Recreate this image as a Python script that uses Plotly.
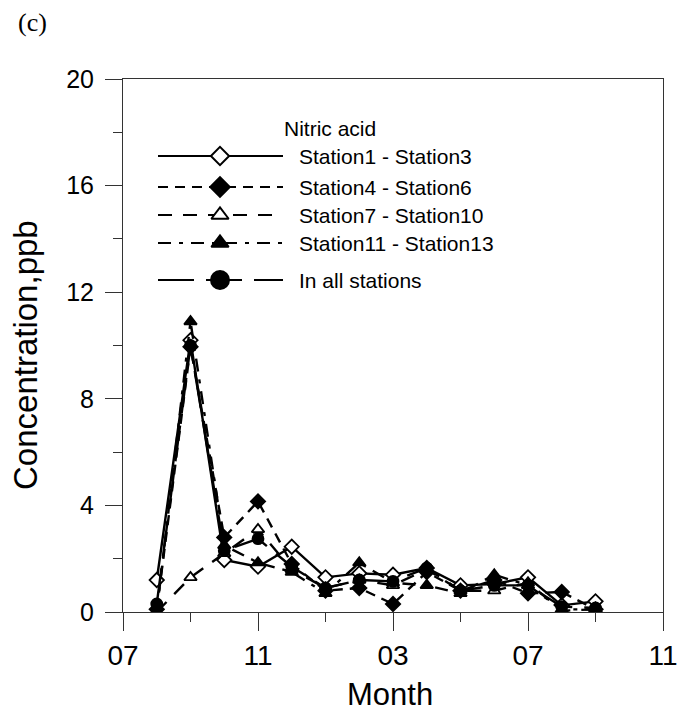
import plotly.graph_objects as go

# ---- data ----
month_offset = list(range(1, 15))          # months since July (Aug .. Sep next year)
x_tickvals = [0, 4, 8, 12, 16]
x_ticktext = ["07", "11", "03", "07", "11"]
y_tickvals = [0, 4, 8, 12, 16, 20]

series_names = ["Station1 - Station3", "Station4 - Station6", "Station7 - Station10",
                "Station11 - Station13", "In all stations"]
st1_3 = [1.2, 10.2, 1.95, 1.7, 2.45, 1.3, 1.45, 1.4, 1.65, 1.0, 1.05, 1.3, 0.25, 0.4]
st4_6 = [0.1, 9.95, 2.8, 4.15, 1.8, 0.8, 0.9, 0.3, 1.5, 0.8, 1.2, 0.7, 0.75, 0.1]
st7_10 = [0.0, 1.3, 2.2, 3.1, 1.6, 0.9, 1.2, 1.0, 1.6, 0.8, 0.8, 1.1, 0.05, 0.1]
st11_13 = [0.0, 10.9, 2.5, 1.85, 1.5, 0.7, 1.85, 1.1, 1.0, 0.7, 1.4, 1.0, 0.1, 0.1]
all_st = [0.3, 10.0, 2.3, 2.75, 1.7, 0.9, 1.2, 1.15, 1.65, 0.8, 1.0, 1.0, 0.2, 0.15]

values = [st1_3, st4_6, st7_10, st11_13, all_st]
symbols = ["diamond", "diamond", "triangle-up", "triangle-up", "circle"]
fills = ["white", "black", "white", "black", "black"]
dashes = ["solid", "10px,7px", "14px,11px", "13px,8px,4px,8px", "36px,12px"]
data_sizes = [11, 11, 11, 11, 11]
legend_sizes = [14, 15, 15, 15, 18]

FONT = "Liberation Sans, Arial, Helvetica, sans-serif"

fig = go.Figure()

for name, vals, sym, fill, dash, ms in zip(series_names, values, symbols, fills, dashes, data_sizes):
    fig.add_trace(go.Scatter(
        x=month_offset, y=vals, mode="lines+markers", name=name,
        line=dict(color="black", width=2.4, dash=dash),
        marker=dict(symbol=sym, size=ms, color=fill,
                    line=dict(color="black", width=1.8)),
        showlegend=False,
    ))

# ---- custom legend drawn on an overlay axis (pixel-like units of the plot area) ----
leg_rows = [456, 425, 397, 369, 332]
leg_x0, leg_xm, leg_x1 = 35, 97, 160
for name, sym, fill, dash, ms, ry in zip(series_names, symbols, fills, dashes, legend_sizes, leg_rows):
    fig.add_trace(go.Scatter(
        x=[leg_x0, leg_x1], y=[ry, ry], mode="lines",
        line=dict(color="black", width=1.8, dash=dash),
        xaxis="x2", yaxis="y2", showlegend=False, hoverinfo="skip",
    ))
    fig.add_trace(go.Scatter(
        x=[leg_xm], y=[ry], mode="markers",
        marker=dict(symbol=sym, size=ms, color=fill,
                    line=dict(color="black", width=2)),
        xaxis="x2", yaxis="y2", showlegend=False, hoverinfo="skip",
    ))
    fig.add_annotation(x=174, y=ry, xref="x2", yref="y2", text=name,
                       showarrow=False, xanchor="left", yanchor="middle",
                       font=dict(family=FONT, size=21, color="black"))

fig.add_annotation(x=159, y=484, xref="x2", yref="y2", text="Nitric acid",
                   showarrow=False, xanchor="left", yanchor="middle",
                   font=dict(family=FONT, size=21, color="black"))

# plot area on the page: x 123..663 px, y 79..612 px
def px_to_paper(px, py):
    return (px - 123) / 540.0, (612 - py) / 533.0

cx, cy = px_to_paper(16, 23)
fig.add_annotation(x=cx, y=cy, xref="paper", yref="paper", text="(c)",
                   showarrow=False, xanchor="left", yanchor="middle",
                   font=dict(family="Liberation Serif, Times New Roman, serif", size=26, color="black"))

tx, ty = px_to_paper(390, 694)
fig.add_annotation(x=tx, y=ty, xref="paper", yref="paper", text="Month",
                   showarrow=False, xanchor="center", yanchor="middle",
                   font=dict(family=FONT, size=31, color="black"))

ux, uy = px_to_paper(25, 355)
fig.add_annotation(x=ux, y=uy, xref="paper", yref="paper", text="Concentration,ppb",
                   showarrow=False, xanchor="center", yanchor="middle", textangle=-90,
                   font=dict(family=FONT, size=33, color="black"))

fig.update_layout(
    width=680, height=715,
    margin=dict(l=123, r=17, t=79, b=103),
    paper_bgcolor="white", plot_bgcolor="white",
    showlegend=False,
    font=dict(family=FONT, color="black"),
    xaxis=dict(
        range=[0, 16], tickvals=x_tickvals, ticktext=x_ticktext,
        automargin=False,
        ticks="outside", ticklen=18, tickwidth=1, tickcolor="#333",
        showline=True, linecolor="#333", linewidth=1, mirror=True,
        showgrid=False, zeroline=False,
        tickfont=dict(family=FONT, size=28, color="black"),
        minor=dict(tickvals=[2, 6, 10, 14], ticks="outside", ticklen=9,
                   tickwidth=1, tickcolor="#333", showgrid=False),
    ),
    yaxis=dict(
        range=[0, 20], tickvals=y_tickvals,
        automargin=False,
        ticks="outside", ticklen=17, tickwidth=1, tickcolor="#333",
        showline=True, linecolor="#333", linewidth=1, mirror=True,
        showgrid=False, zeroline=False, ticklabelstandoff=6,
        tickfont=dict(family=FONT, size=25, color="black"),
        minor=dict(tickvals=[2, 6, 10, 14, 18], ticks="outside", ticklen=9,
                   tickwidth=1, tickcolor="#333", showgrid=False),
    ),
    xaxis2=dict(range=[0, 540], overlaying="x", visible=False, fixedrange=True),
    yaxis2=dict(range=[0, 533], overlaying="y", visible=False, fixedrange=True),
)

# remove the browser's default 8px page margin so the figure fills the window exactly
fig.write_html("out.html",
               config={"displayModeBar": False},
               post_script="document.body.style.margin='0px';document.body.style.overflow='hidden';")
